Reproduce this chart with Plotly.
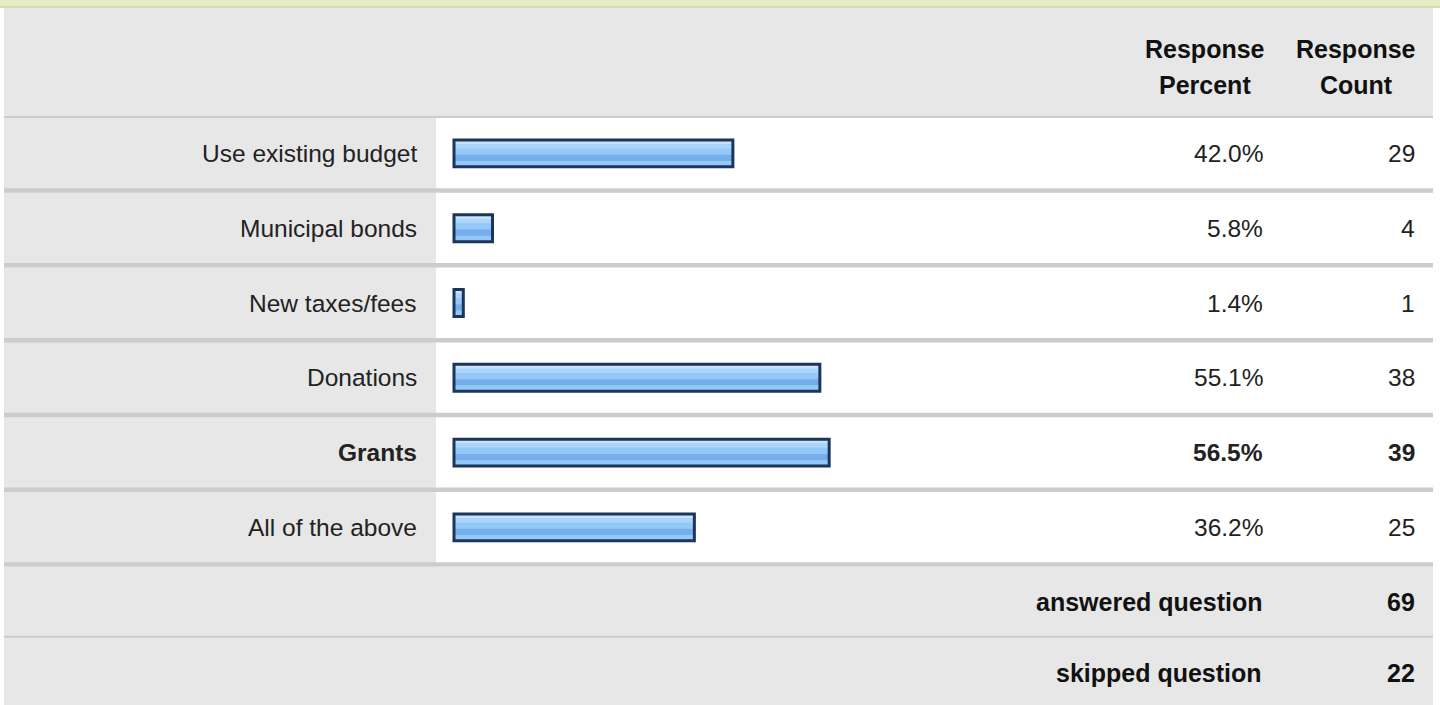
import plotly.graph_objects as go

W, H = 1440, 705

# data
answers = ["Use existing budget", "Municipal bonds", "New taxes/fees",
           "Donations", "Grants", "All of the above"]
percents = [42.0, 5.8, 1.4, 55.1, 56.5, 36.2]
counts = [29, 4, 1, 38, 39, 25]
answered = 69
skipped = 22

FONT = "Liberation Sans, Arial, sans-serif"
GRAY = "#e7e7e7"
SEP = "#cccccc"
TXT = "#222222"


def px(x):
    return x / W


def py(y):
    return 1 - y / H


# table geometry (pixels)
left, right = 4, 1433
label_col = 436
head_top, head_bot = 8, 116
row_top, row_h = 118, 74.8
rows_bot = row_top + row_h * len(answers)
foot_h = 71

shapes = []


def rect(x0, y0, x1, y1, color):
    shapes.append(dict(type="rect", xref="paper", yref="paper",
                       x0=px(x0), x1=px(x1), y0=py(y1), y1=py(y0),
                       fillcolor=color, line_width=0, layer="below"))


# top strip
rect(0, 0, W, 7, "#e6ebc2")
rect(0, 6, W, 8, "#d6dbb3")
# header
rect(left, head_top, right, head_bot, GRAY)
rect(left, head_bot, right, row_top, SEP)
# label column
rect(left, row_top, label_col, rows_bot, GRAY)
# row separators
for i in range(1, len(answers) + 1):
    y = row_top + row_h * i
    rect(left, y - 4.5, right, y, SEP)
# footer
rect(left, rows_bot, right, H + 5, GRAY)
rect(left, rows_bot + foot_h - 2, right, rows_bot + foot_h, SEP)

fig = go.Figure()

# bars with glossy bands
bw = 0.36
bands = [
    (0.0, 0.16, "#c8e3fc"),
    (0.16, 0.32, "#acd5fa"),
    (0.55, 0.78, "#75aeea"),
]
fig.add_trace(go.Bar(x=percents, y=answers, orientation="h",
                     width=bw, offset=-bw / 2,
                     marker=dict(color="#94c8f7", line=dict(width=0)),
                     hoverinfo="skip"))
for a, b, c in bands:
    fig.add_trace(go.Bar(x=percents, y=answers, orientation="h",
                         width=bw * (b - a), offset=-bw / 2 + bw * a,
                         marker=dict(color=c, line=dict(width=0)),
                         hoverinfo="skip"))
fig.add_trace(go.Bar(x=percents, y=answers, orientation="h",
                     width=bw, offset=-bw / 2,
                     marker=dict(color="rgba(0,0,0,0)",
                                 line=dict(color="#1b355c", width=3)),
                     hoverinfo="skip"))

annotations = []
top_pct = max(percents)
for name, p, c in zip(answers, percents, counts):
    bold = p == top_pct
    f = dict(family=FONT, size=24.5, color=TXT)

    def t(s):
        return f"<b>{s}</b>" if bold else s
    annotations.append(dict(xref="paper", yref="y", x=px(419), y=name,
                            text=t(name), xanchor="right", yanchor="middle",
                            showarrow=False, font=f))
    annotations.append(dict(xref="paper", yref="y", x=px(1265), y=name,
                            text=t(f"{p:.1f}%"), xanchor="right", yanchor="middle",
                            showarrow=False, font=f))
    annotations.append(dict(xref="paper", yref="y", x=px(1417), y=name,
                            text=t(str(c)), xanchor="right", yanchor="middle",
                            showarrow=False, font=f))

hf = dict(family=FONT, size=25, color="#111111")
for xc, lines in [(1205, ["Response", "Percent"]), (1356, ["Response", "Count"])]:
    for yc, s in zip([49, 85], lines):
        annotations.append(dict(xref="paper", yref="paper", x=px(xc), y=py(yc),
                                text=f"<b>{s}</b>", xanchor="center",
                                yanchor="middle", showarrow=False, font=hf))
for i, (lab, val) in enumerate([("answered question", answered),
                                 ("skipped question", skipped)]):
    yc = rows_bot + foot_h * i + foot_h / 2
    annotations.append(dict(xref="paper", yref="paper", x=px(1264), y=py(yc),
                            text=f"<b>{lab}</b>", xanchor="right",
                            yanchor="middle", showarrow=False, font=hf))
    annotations.append(dict(xref="paper", yref="paper", x=px(1417), y=py(yc),
                            text=f"<b>{val}</b>", xanchor="right",
                            yanchor="middle", showarrow=False, font=hf))

# 0% sits at pixel 454, 6.64 px per percent
x0_px, scale = 454, 6.64
fig.update_layout(
    width=W, height=H,
    margin=dict(l=0, r=0, t=0, b=0),
    paper_bgcolor="white", plot_bgcolor="rgba(0,0,0,0)",
    barmode="overlay", showlegend=False,
    shapes=shapes, annotations=annotations,
    xaxis=dict(domain=[0, 1], range=[-x0_px / scale, (W - x0_px) / scale],
               visible=False, fixedrange=True),
    yaxis=dict(domain=[py(rows_bot - 2), py(row_top - 2)],
               range=[len(answers) - 0.5, -0.5], type="category",
               visible=False, fixedrange=True),
)

fig.write_html("out.html", config={"displayModeBar": False},
               post_script="document.body.style.margin='0';")
